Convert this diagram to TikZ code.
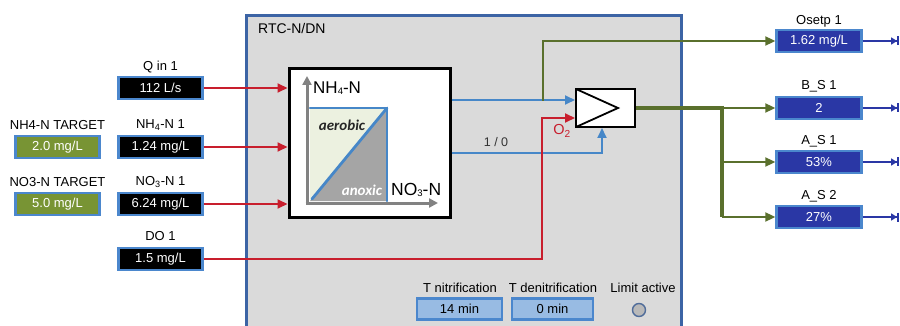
\documentclass[tikz,border=0pt]{standalone}
\usepackage{fontspec}
\setmainfont{Liberation Sans}
\newfontfamily\carl{Carlito}
\usetikzlibrary{arrows.meta,calc}
\definecolor{bordblue}{RGB}{75,135,205}
\definecolor{sigred}{RGB}{200,30,45}
\definecolor{sigblue}{RGB}{70,135,200}
\definecolor{siggreen}{RGB}{90,112,45}
\definecolor{outerfill}{RGB}{218,218,218}
\definecolor{outerbord}{RGB}{60,100,165}
\definecolor{tgtfill}{RGB}{120,148,52}
\definecolor{outfill}{RGB}{42,55,165}
\definecolor{botfill}{RGB}{152,187,227}
\definecolor{aerofill}{RGB}{236,241,224}
\definecolor{anoxfill}{RGB}{165,165,165}
\definecolor{axgray}{RGB}{130,130,130}
\tikzset{
  lbl/.style={font=\fontsize{13}{15}\selectfont, text=black, inner sep=0pt},
  valbox/.style={draw=bordblue, line width=2.4pt, minimum width=84pt, minimum height=22pt, inner sep=0pt, font=\fontsize{13}{15}\selectfont},
  inbox/.style={valbox, fill=black, text=white},
  tgtbox/.style={valbox, fill=tgtfill, text=white},
  outbox/.style={valbox, fill=outfill, text=white, minimum width=85pt},
  botbox/.style={valbox, fill=botfill, text=black, minimum height=21pt},
  redarrow/.style={draw=sigred, line width=1.8pt, -{Triangle[length=10pt,width=9pt]}},
  bluearrow/.style={draw=sigblue, line width=1.8pt, -{Triangle[length=10pt,width=9pt]}},
  greenarrow/.style={draw=siggreen, line width=2pt, -{Triangle[length=10pt,width=9pt]}},
  greenthick/.style={draw=siggreen, line width=4pt},
  outarrow/.style={draw=outfill, line width=1.6pt, -{Triangle[length=6pt,width=7pt]Bar[width=9pt,line width=1.6pt]}},
}
\begin{document}
\begin{tikzpicture}[x=1pt,y=-1pt]
\useasboundingbox (0,0) rectangle (900,326);
\clip (0,0) rectangle (900,326);
\fill[white] (0,0) rectangle (900,326);
% outer RTC box
\node[draw=outerbord, fill=outerfill, line width=2.8pt, minimum width=435pt, minimum height=340pt, inner sep=0pt, anchor=north west] (rtc) at (245,14) {};
\node[lbl, font=\fontsize{14}{16}\selectfont, anchor=west] (rtclbl) at (258,28) {RTC-N/DN};

% input boxes
\node[inbox] (q) at (160.5,88) {112 L/s};
\node[lbl] (ql) at (160.5,67) {Q in 1};
\node[inbox] (nh) at (160.5,147) {1.24 mg/L};
\node[lbl] (nhl) at (160.5,125) {NH\textsubscript{4}-N 1};
\node[inbox] (no) at (160.5,204) {6.24 mg/L};
\node[lbl] (nol) at (160.5,182) {NO\textsubscript{3}-N 1};
\node[inbox] (do) at (160.5,259) {1.5 mg/L};
\node[lbl] (dol) at (160.5,236) {DO 1};
% targets
\node[tgtbox] (nht) at (57.5,147) {2.0 mg/L};
\node[lbl] (nhtl) at (57.5,125) {NH4-N TARGET};
\node[tgtbox] (not) at (57.5,204) {5.0 mg/L};
\node[lbl] (notl) at (57.5,182) {NO3-N TARGET};

% controller box
\node[draw=black, fill=white, line width=3pt, minimum width=161pt, minimum height=148pt, inner sep=0pt] (ctrl) at (369.5,143) {};
% diagram inside
\coordinate (sqbl) at (310,201);
\coordinate (sqtr) at (387,108);
\fill[aerofill] (sqbl) -- (310,108) -- (sqtr) -- cycle;
\fill[anoxfill] (sqbl) -- (sqtr) -- (387,201) -- cycle;
\draw[sigblue, line width=2.8pt, line cap=round] (310,108) -- (sqtr) -- (387,201);
\draw[sigblue, line width=2.8pt, line cap=round] (312,199) -- (sqtr);
\coordinate (orig) at (307,203);
\draw[axgray, line width=3pt, -{Triangle[length=9pt,width=9pt]}] (orig) -- (307,76);
\draw[axgray, line width=3pt, -{Triangle[length=9pt,width=9pt]}] (305.5,203) -- (438,203);
\node[inner sep=0pt, anchor=west, font=\fontsize{17}{19}\selectfont] (nhax) at (313,88) {NH\raisebox{-0.5pt}{\fontsize{9.5}{10}\selectfont 4}-N};
\node[inner sep=0pt, anchor=west, font=\fontsize{17.5}{19}\selectfont] (noax) at (391,190) {NO\raisebox{-0.5pt}{\fontsize{9.5}{10}\selectfont 3}-N};
\node[inner sep=0pt, font=\carl\bfseries\itshape\fontsize{15}{17}\selectfont, text=black!85] (aero) at (342,125) {aerobic};
\node[inner sep=0pt, font=\carl\bfseries\itshape\fontsize{15}{17}\selectfont, text=white] (anox) at (362,190) {anoxic};

% red input arrows
\draw[redarrow] (q.east) -- (q.east -| ctrl.west);
\draw[redarrow] (nh.east) -- (nh.east -| ctrl.west);
\draw[redarrow] (no.east) -- (no.east -| ctrl.west);

% amplifier
\node[draw=black, fill=white, line width=2pt, minimum width=59pt, minimum height=38pt, inner sep=0pt] (amp) at (605.5,108) {};
\draw[black, line width=1.8pt] ($(amp.north west)+(1,1)$) -- ($(amp.east)+(-18,0)$) -- ($(amp.south west)+(1,-1)$);
\coordinate (ain1) at ($(amp.west)+(0,-8)$);
\coordinate (ain2) at ($(amp.west)+(0,10)$);
\coordinate (ain3) at ($(amp.south)+(-3.5,0)$);

% blue signal lines
\draw[bluearrow] (ctrl.east |- ain1) -- (ain1);
\draw[bluearrow] (ctrl.east |- 0,153) -- (ain3 |- 0,153) -- (ain3);
\node[lbl, text=black!80, font=\fontsize{12.5}{14}\selectfont] (onezero) at (496,142) {1 / 0};

% DO red line
\coordinate (dobend) at (542,259);
\draw[redarrow] (do.east) -- (dobend) -- (dobend |- ain2) -- (ain2);
\node[inner sep=0pt, text=sigred, font=\fontsize{14.5}{16}\selectfont] (o2) at (562,131) {O\textsubscript{2}};

% outputs
\node[outbox] (osp) at (819,41) {1.62 mg/L};
\node[lbl] (ospl) at (819,21) {Osetp 1};
\node[outbox] (bs) at (819,108) {2};
\node[lbl] (bsl) at (819,86) {B\_S 1};
\node[outbox] (as1) at (819,162) {53\%};
\node[lbl] (as1l) at (819,141) {A\_S 1};
\node[outbox] (as2) at (819,217) {27\%};
\node[lbl] (as2l) at (819,196) {A\_S 2};

% green lines
\coordinate (gsplit) at (543,101);
\draw[greenarrow] (gsplit) -- (gsplit |- osp.west) -- (osp.west);
\coordinate (trunk) at (722,108);
\draw[greenthick] (amp.east) -- (trunk);
\draw[greenthick] (722,106) -- (trunk |- as2.west);
\draw[greenarrow] (trunk) -- (bs.west);
\draw[greenarrow] (trunk |- as1.west) -- (as1.west);
\draw[greenarrow] (trunk |- as2.west) -- (as2.west);

% output arrows
\foreach \n in {osp,bs,as1,as2}{
  \coordinate (\n end) at ($(\n.east)+(36,0)$);
  \draw[outarrow] (\n.east) -- (\n end);
}

% bottom indicators
\node[botbox, minimum width=85pt] (tn) at (459.5,309) {14 min};
\node[lbl] (tnl) at (460,288) {T nitrification};
\node[botbox, minimum width=81pt] (tdn) at (552.5,309) {0 min};
\node[lbl] (tdnl) at (553,288) {T denitrification};
\node[draw=outerbord!70!gray, fill=gray!55, line width=1.4pt, circle, minimum size=13pt, inner sep=0pt] (lim) at (639,310) {};
\node[lbl] (liml) at (643,288) {Limit active};
\end{tikzpicture}
\end{document}
